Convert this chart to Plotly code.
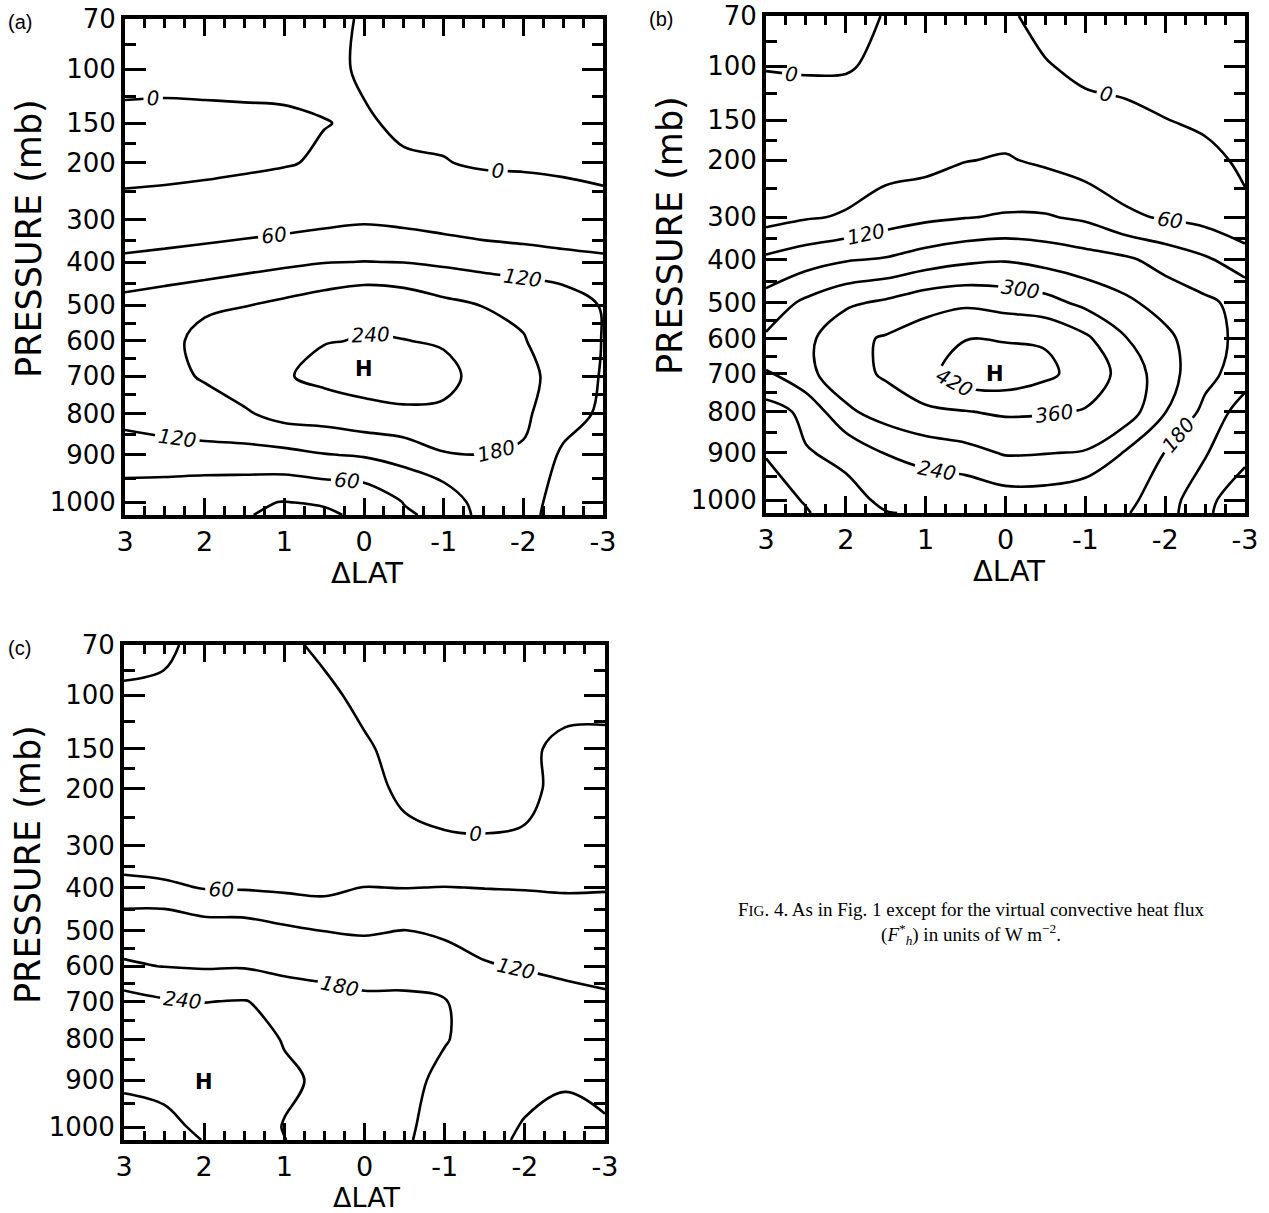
import numpy as np
import plotly.graph_objects as go

# ---------------- data ----------------
DLAT = [3, 2.5, 2, 1.5, 1, 0.5, 0, -0.5, -1, -1.5, -2, -2.5, -3]
LEVELS = [70, 100, 150, 200, 300, 400, 500, 600, 700, 800, 900, 1000, 1030]

# virtual convective heat flux (W m-2); one list per DLAT column, values along LEVELS
FLUX_A = [
    [20, 8, -6, -9, 11, 73, 140, 150, 150, 140, 89, 30, 20],
    [20, 8, -7, -19, 30, 74, 157, 165, 165, 150, 96, 19, 10],
    [20, 8, -6, -13, 30, 83, 172, 195, 185, 157, 101, 6, 4],
    [20, 8, -5, -7, 29, 98, 178, 215, 215, 172, 100, 5, 3],
    [18, 6, -3, -3, 36, 108, 194, 235, 235, 202, 103, -1, -10],
    [15, 10, -1, 5, 45, 118, 213, 238, 255, 208, 117, 6, -10],
    [-5, -5, 4, 10, 53, 121, 232, 242, 262, 224, 125, 15, 12],
    [-25, -15, -6, 4, 46, 119, 221, 241, 258, 234, 140, 62, 52],
    [-30, -20, -5, 1, 35, 110, 196, 236, 252, 233, 175, 80, 75],
    [-35, -25, -10, -3, 22, 101, 178, 215, 225, 215, 179, 150, 140],
    [-40, -30, -12, -4, 21, 89, 173, 182, 195, 190, 174, 140, 135],
    [-40, -30, -12, -5, 15, 80, 155, 160, 160, 145, 110, 100, 100],
    [-40, -30, -14, -6, 9, 73, 115, 118, 115, 110, 105, 100, 100],
]
FLUX_B = [
    [-15, -1, 10, 20, 38, 131, 205, 248, 239, 152, 124, 90, 85],
    [-20, -2, 10, 22, 55, 154, 252, 285, 285, 195, 176, 125, 115],
    [-20, -2, 12, 28, 65, 175, 290, 343, 335, 289, 193, 163, 155],
    [3, 5, 15, 35, 92, 185, 310, 366, 368, 326, 242, 190, 178],
    [8, 12, 25, 40, 108, 208, 340, 388, 400, 351, 265, 190, 185],
    [10, 18, 40, 58, 118, 227, 350, 418, 455, 358, 281, 194, 190],
    [5, 12, 35, 65, 125, 235, 337, 415, 460, 368, 305, 212, 205],
    [-10, 2, 25, 50, 125, 220, 321, 414, 433, 365, 302, 212, 205],
    [-20, -7, 10, 30, 110, 204, 285, 372, 395, 356, 296, 190, 185],
    [-25, -12, 8, 25, 69, 190, 252, 303, 340, 335, 235, 195, 185],
    [-30, -18, 1, 20, 55, 158, 217, 255, 265, 242, 178, 150, 145],
    [-30, -22, -8, 12, 40, 128, 192, 200, 198, 165, 125, 75, 70],
    [-30, -25, -15, -8, 9, 91, 160, 165, 150, 90, 75, 25, 20],
]
FLUX_C = [
    [-5, 2, 5, 8, 12, 81, 160, 185, 265, 262, 250, 214, 210],
    [-3, 3, 6, 9, 14, 71, 170, 179, 246, 265, 262, 220, 215],
    [5, 8, 10, 12, 15, 57, 150, 175, 239, 270, 280, 255, 242],
    [8, 10, 12, 14, 18, 55, 148, 176, 242, 262, 275, 265, 258],
    [5, 6, 8, 10, 20, 50, 131, 162, 225, 237, 248, 238, 241],
    [-5, 5, 8, 10, 20, 45, 119, 165, 197, 215, 232, 225, 220],
    [-10, -6, 3, 8, 25, 61, 115, 150, 193, 205, 210, 210, 205],
    [-15, -12, -8, -5, 7, 59, 121, 155, 191, 200, 195, 190, 188],
    [-20, -15, -12, -8, 3, 61, 110, 148, 183, 183, 168, 155, 150],
    [-25, -20, -18, -15, 4, 59, 100, 124, 150, 160, 150, 140, 135],
    [-30, -30, -8, -12, 7, 58, 90, 116, 150, 150, 135, 116, 112],
    [-30, -15, 10, 15, 25, 57, 80, 108, 138, 140, 125, 105, 100],
    [-30, -20, 16, 25, 35, 58, 78, 105, 128, 132, 125, 118, 115],
]

CONTOUR_END = {"a": 240, "b": 420, "c": 240}
CONTOUR_STEP = 60
H_MARK = {"a": (0.0, 680), "b": (0.13, 700), "c": (2.0, 905)}

P_TICKS = [70, 100, 150, 200, 300, 400, 500, 600, 700, 800, 900, 1000]
P_TICK_TEXT = ["70", "100", "150", "200", "300", "400", "500", "600", "700", "800", "900", "1000"]
P_MINOR = [85, 125, 175, 250, 350, 450, 550, 650, 750, 850, 950]
X_TICKS = [3, 2, 1, 0, -1, -2, -3]
X_TICK_TEXT = ["3", "2", "1", "0", "-1", "-2", "-3"]
X_MINOR = list(np.arange(-3, 3.001, 0.25))

# vertical scale of the original axis: pressure -> fraction of axis height from top
AXIS_P = [70, 100, 150, 200, 300, 400, 500, 600, 700, 800, 900, 1000, 1030]
AXIS_S = [0.0, 0.101, 0.210, 0.290, 0.405, 0.490, 0.577, 0.649, 0.720, 0.796, 0.879, 0.974, 1.0]


def ypos(p):
    return np.interp(p, AXIS_P, AXIS_S)


# ---------------- layout geometry (pixels) ----------------
W, H = 1269, 1213
FRAMES = {"a": (125, 603, 19, 515), "b": (766, 1245, 16, 513), "c": (124, 605, 645, 1140)}
XLABEL_GAP = {"a": 58, "b": 58, "c": 57}
XLABEL_SIZE = {"a": 29, "b": 29, "c": 27}
PANEL_DATA = {"a": FLUX_A, "b": FLUX_B, "c": FLUX_C}

FONT = "DejaVu Sans"
fig = go.Figure()
annotations = []
layout = dict(width=W, height=H, margin=dict(l=0, r=0, t=0, b=0, autoexpand=False),
              paper_bgcolor="white", plot_bgcolor="white", showlegend=False)

for i, key in enumerate(["a", "b", "c"], start=1):
    x0, x1, y0, y1 = FRAMES[key]
    xs = "" if i == 1 else str(i)
    z = np.array(PANEL_DATA[key], dtype=float).T  # rows = LEVELS, cols = DLAT
    xvals = DLAT[::-1]
    z = z[:, ::-1]
    fig.add_trace(go.Contour(
        x=xvals, y=ypos(LEVELS), z=z,
        xaxis="x" + xs, yaxis="y" + xs,
        autocontour=False,
        contours=dict(start=0, end=CONTOUR_END[key], size=CONTOUR_STEP,
                      coloring="lines", showlabels=True,
                      labelfont=dict(family=FONT, size=20, color="black", style="italic")),
        colorscale=[[0, "black"], [1, "black"]], showscale=False,
        line=dict(width=2.6, smoothing=1.0), hoverinfo="skip",
    ))
    layout["xaxis" + xs] = dict(
        domain=[x0 / W, x1 / W], anchor="y" + xs, range=[3, -3], automargin=False,
        tickmode="array", tickvals=X_TICKS, ticktext=X_TICK_TEXT,
        ticks="inside", ticklen=17, tickwidth=2.5, tickcolor="black",
        minor=dict(tickmode="array", tickvals=X_MINOR, ticks="inside",
                   ticklen=9, tickwidth=2.5, tickcolor="black"),
        showline=True, linewidth=4, linecolor="black", mirror="allticks",
        showgrid=False, zeroline=False,
        tickfont=dict(family=FONT, size=27, color="black"),
    )
    layout["yaxis" + xs] = dict(
        domain=[1 - y1 / H, 1 - y0 / H], anchor="x" + xs, range=[1.0, 0.0], automargin=False,
        tickmode="array", tickvals=list(ypos(P_TICKS)), ticktext=P_TICK_TEXT,
        ticks="inside", ticklen=21, tickwidth=3, tickcolor="black",
        minor=dict(tickmode="array", tickvals=list(ypos(P_MINOR)), ticks="inside",
                   ticklen=11, tickwidth=3, tickcolor="black"),
        showline=True, linewidth=4, linecolor="black", mirror="allticks",
        showgrid=False, zeroline=False,
        tickfont=dict(family=FONT, size=26, color="black"),
    )
    hx, hp = H_MARK[key]
    annotations.append(dict(x=hx, y=float(ypos(hp)), xref="x" + xs, yref="y" + xs,
                            text="<b>H</b>", showarrow=False,
                            font=dict(family=FONT, size=21, color="black")))
    # axis titles
    cx = (x0 + x1) / 2
    annotations.append(dict(x=(cx + 3) / W, y=1 - (y1 + XLABEL_GAP[key]) / H,
                            xref="paper", yref="paper", borderpad=0,
                            text="ΔLAT", showarrow=False, xanchor="center", yanchor="middle",
                            font=dict(family=FONT, size=XLABEL_SIZE[key], color="black")))
    annotations.append(dict(x=(x0 - 96) / W, y=1 - (y0 + 220) / H, xref="paper", yref="paper",
                            text="PRESSURE (mb)", textangle=-90, showarrow=False,
                            xanchor="center", yanchor="middle",
                            font=dict(family=FONT, size=35, color="black")))
    annotations.append(dict(x=(x0 - 105) / W, y=1 - (y0 + 3) / H, xref="paper", yref="paper",
                            text="(" + key + ")", showarrow=False, xanchor="center",
                            yanchor="middle",
                            font=dict(family="Liberation Sans", size=20, color="black")))

annotations.append(dict(
    x=971 / W, y=1 - 923 / H, xref="paper", yref="paper", showarrow=False,
    xanchor="center", yanchor="middle", align="center",
    text=("F<span style='font-size:15px'>IG</span>. 4. As in Fig. 1 except for the virtual convective heat flux"
          "<br>(<i>F</i><sup>*</sup><sub><i>h</i></sub>) in units of W m<sup>−2</sup>."),
    font=dict(family="Liberation Serif", size=19, color="black"),
))

layout["annotations"] = annotations
fig.update_layout(**layout)
fig.write_html("out.html", config={"displayModeBar": False},
               post_script="document.body.style.margin='0px';")
